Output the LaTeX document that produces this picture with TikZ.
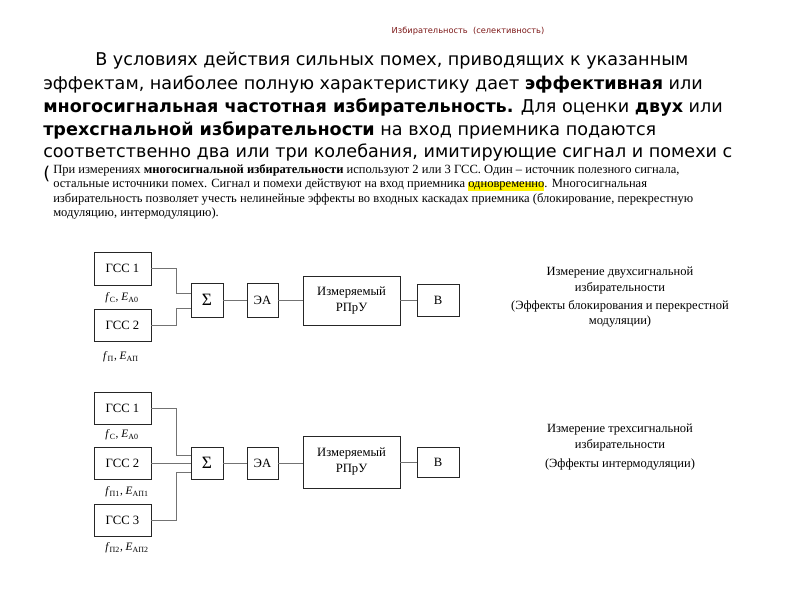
\documentclass[tikz,border=0pt]{standalone}
\usepackage{fontspec}
\setmainfont{Liberation Serif}
\newfontfamily\dejavu{DejaVu Sans}
\begin{document}
\begin{tikzpicture}[x=0.75pt,y=-0.75pt,
  box/.style={draw=black!85, line width=0.6pt, fill=white, inner sep=0pt, font=\fontsize{9.5}{11}\selectfont, align=center},
  wire/.style={draw=black!55, line width=0.6pt},
  big/.style={anchor=west, inner sep=0pt, font=\dejavu\fontsize{13.2}{15}\selectfont},
  small/.style={anchor=west, inner sep=0pt, font=\fontsize{9.4}{10}\selectfont},
  lbl/.style={inner sep=0pt, font=\fontsize{8.5}{10}\selectfont},
  rtext/.style={inner sep=0pt, align=center, font=\fontsize{9.4}{11}\selectfont}]
\useasboundingbox[fill=white] (0,0) rectangle (800,600);

% title
\node[inner sep=0pt, text={rgb,255:red,125;green,25;blue,25}, font=\dejavu\fontsize{6.2}{7}\selectfont] (title) at (468,31) {Избирательность \ (селективность)};

% main text
\node[big] (t1) at (95,61) {В условиях действия сильных помех, приводящих к указанным};
\node[big] (t2) at (43,84) {эффектам, наиболее полную характеристику дает \textbf{эффективная} или};
\node[big] (t3) at (43,107) {\textbf{многосигнальная частотная избирательность.} Для оценки \textbf{двух} или};
\node[big] (t4) at (43,130) {\textbf{трехсгнальной избирательности} на вход приемника подаются};
\node[big] (t5) at (43,152) {соответственно два или три колебания, имитирующие сигнал и помехи с};
\node[big] (t6) at (43,174) {(};

% small text
\fill[white] (50,162) rectangle (700,222);
\node[small] (s1) at (53,170) {При измерениях \textbf{многосигнальной избирательности} используют 2 или 3 ГСС. Один – источник полезного сигнала,};
\node[small] (s2) at (53,185) {остальные источники помех. Сигнал и помехи действуют на вход приемника {\setlength{\fboxsep}{0pt}\colorbox{yellow}{одновременно}}. Многосигнальная};
\node[small] (s3) at (53,199) {избирательность позволяет учесть нелинейные эффекты во входных каскадах приемника (блокирование, перекрестную};
\node[small] (s4) at (53,214) {модуляцию, интермодуляцию).};

% ---------- diagram 1 ----------
\node[box, minimum width=42.75pt, minimum height=24.75pt] (a1) at (122.5,268.5) {ГСС 1};
\node[box, minimum width=42.75pt, minimum height=24pt] (a2) at (122.5,325) {ГСС 2};
\node[lbl] (la1) at (122,298) {\textit{f}\textsubscript{C}, \textit{E}\textsubscript{А0}};
\node[lbl] (la2) at (121,357) {\textit{f}\textsubscript{П}, \textit{E}\textsubscript{АП}};
\node[box, minimum width=24pt, minimum height=25.5pt, font=\fontsize{13}{14}\selectfont] (as) at (207,300) {Σ};
\node[box, minimum width=23.25pt, minimum height=25.5pt] (ae) at (262.5,300) {ЭА};
\node[box, minimum width=72.75pt, minimum height=36.75pt] (ar) at (351.5,300.5) {Измеряемый\\[1pt]РПрУ};
\node[box, minimum width=31.5pt, minimum height=24pt] (av) at (438,300.5) {В};
\coordinate (aj1) at (176,293);
\coordinate (aj2) at (176,308);
\draw[wire] (a1.east) -| (aj1) -- (aj1 -| as.west);
\draw[wire] (a2.east) -| (aj2) -- (aj2 -| as.west);
\draw[wire] (as.east) -- (ae.west);
\draw[wire] (ae.east) -- (ae.east -| ar.west);
\draw[wire] (ar.east) -- (ar.east -| av.west);
\node[rtext] (ra1) at (620,273) {Измерение двухсигнальной};
\node[rtext] (ra2) at (620,288) {избирательности};
\node[rtext] (ra3) at (620,306) {(Эффекты блокирования и перекрестной};
\node[rtext] (ra4) at (620,322) {модуляции)};

% ---------- diagram 2 ----------
\node[box, minimum width=42.75pt, minimum height=24pt] (b1) at (122.5,408) {ГСС 1};
\node[box, minimum width=42.75pt, minimum height=24pt] (b2) at (122.5,463) {ГСС 2};
\node[box, minimum width=42.75pt, minimum height=24pt] (b3) at (122.5,520) {ГСС 3};
\node[lbl] (lb1) at (122,435) {\textit{f}\textsubscript{C}, \textit{E}\textsubscript{А0}};
\node[lbl] (lb2) at (127,492) {\textit{f}\textsubscript{П1}, \textit{E}\textsubscript{АП1}};
\node[lbl] (lb3) at (127,548) {\textit{f}\textsubscript{П2}, \textit{E}\textsubscript{АП2}};
\node[box, minimum width=24pt, minimum height=24pt, font=\fontsize{13}{14}\selectfont] (bs) at (207,463) {Σ};
\node[box, minimum width=23.25pt, minimum height=24pt] (be) at (262.5,463) {ЭА};
\node[box, minimum width=72.75pt, minimum height=39pt] (br) at (351.5,462) {Измеряемый\\[1pt]РПрУ};
\node[box, minimum width=31.5pt, minimum height=22.5pt] (bv) at (438,462) {В};
\coordinate (bj1) at (176,455);
\coordinate (bj3) at (176,472);
\draw[wire] (b1.east) -| (bj1) -- (bj1 -| bs.west);
\draw[wire] (b2.east) -- (bs.west);
\draw[wire] (b3.east) -| (bj3) -- (bj3 -| bs.west);
\draw[wire] (bs.east) -- (be.west);
\draw[wire] (be.east) -- (be.east -| br.west);
\draw[wire] (br.east) -- (br.east -| bv.west);
\node[rtext] (rb1) at (620,430) {Измерение трехсигнальной};
\node[rtext] (rb2) at (620,445) {избирательности};
\node[rtext] (rb3) at (620,464) {(Эффекты интермодуляции)};
\end{tikzpicture}
\end{document}
